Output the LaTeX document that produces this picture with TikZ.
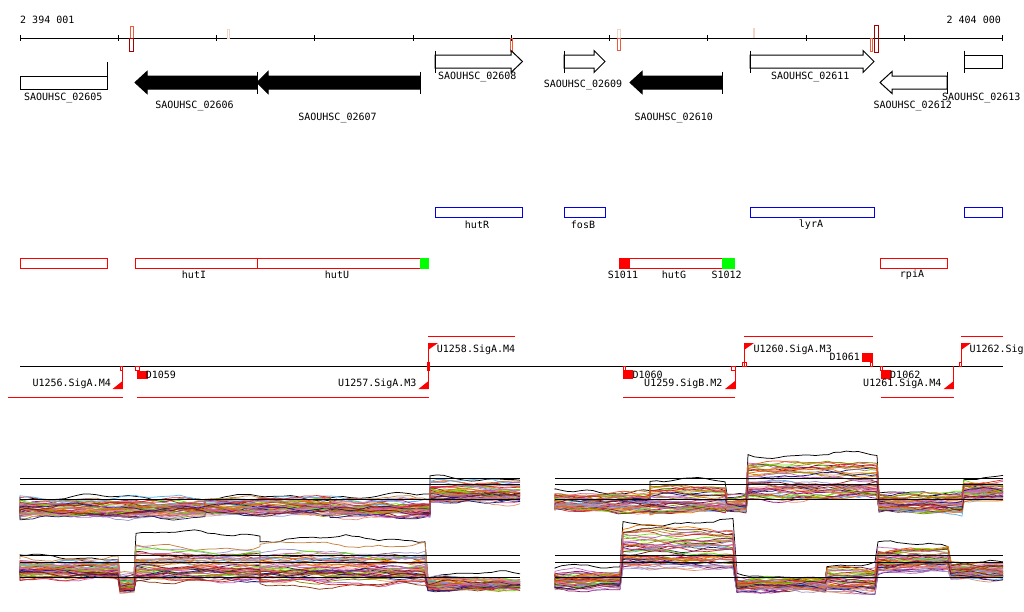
\documentclass[tikz,border=0pt]{standalone}
\usepackage{fontspec}
\setmonofont{DejaVu Sans Mono}
\usetikzlibrary{positioning}
\definecolor{opblue}{RGB}{0,0,230}
\definecolor{hitgreen}{RGB}{0,255,0}
\definecolor{tsred}{RGB}{240,90,60}
\definecolor{tsdark}{RGB}{165,0,0}
\definecolor{tspale}{RGB}{242,212,200}
\definecolor{col0}{RGB}{0,0,0}
\definecolor{col1}{RGB}{90,180,240}
\definecolor{col2}{RGB}{235,90,60}
\definecolor{col3}{RGB}{150,20,130}
\definecolor{col4}{RGB}{140,140,0}
\definecolor{col5}{RGB}{100,230,0}
\definecolor{col6}{RGB}{140,60,20}
\definecolor{col7}{RGB}{215,100,160}
\definecolor{col8}{RGB}{225,150,120}
\definecolor{col9}{RGB}{230,120,0}
\definecolor{col10}{RGB}{160,150,210}
\definecolor{col11}{RGB}{30,30,120}
\definecolor{col12}{RGB}{195,130,65}
\definecolor{col13}{RGB}{220,40,40}
\definecolor{col14}{RGB}{190,110,190}
\definecolor{col15}{RGB}{110,30,40}

\begin{document}
\begin{tikzpicture}[x=1pt, y=-1pt,
    lbl/.style={font=\ttfamily\fontsize{10}{10}\selectfont, inner sep=0pt},
    genebox/.style={draw=black, fill=white, line width=1pt},
    geneblk/.style={draw=black, fill=black, line width=1pt},
    startbar/.style={draw=black, line width=1pt},
    opbox/.style={draw=opblue, line width=1pt},
    tubox/.style={draw=red, line width=1pt},
    span/.style={draw=red, line width=1pt},
    site/.style={draw=red, line width=0.8pt},
    profile/.style={line width=0.75pt},
    level/.style={draw=black, line width=1pt}
]
\useasboundingbox (0,0) rectangle (1024,611);

% Coordinate axis
\draw[line width=1pt] (20,38) -- (1003,38);
\foreach \t in {0,...,10}
  \draw[line width=1pt] ({20+98.25*\t},35) -- ({20+98.25*\t},41);
\node[lbl, anchor=west] (posl) at (20,20) {2 394 001};
\node[lbl, anchor=east] (posr) at (1001,20) {2 404 000};

% Transcription start marks
\draw[tsred, line width=0.8pt] (130,26) rectangle (133.5,38);
\draw[tsdark, line width=1.5pt] (129.5,38.5) rectangle (133.5,51.5);
\draw[tspale, line width=0.8pt] (227,29) rectangle (229.5,38);
\draw[tsred, line width=0.8pt] (510,38) rectangle (512,51);
\draw[tspale, line width=0.8pt] (617,29) rectangle (620,38);
\draw[tsred, line width=0.8pt] (617,38) rectangle (620,50);
\draw[tspale, line width=1.5pt] (754,28) -- (754,38);
\draw[tsred, line width=0.8pt] (870.5,38) rectangle (872.5,51);
\draw[tsdark, line width=1pt] (874,25) rectangle (878.5,52);

% Genes
\draw[genebox] (20,76) rectangle (107,89);
\draw[startbar] (107,62) -- (107,89);
\draw[geneblk] (135,82.5) -- (147,71.5) -- (147,76) -- (257,76) -- (257,89) -- (147,89) -- (147,93.5) -- cycle;
\draw[startbar] (257,71.5) -- (257,93.5);
\draw[geneblk] (257,82.5) -- (268,71.5) -- (268,76) -- (420,76) -- (420,89) -- (268,89) -- (268,93.5) -- cycle;
\draw[startbar] (420,71.5) -- (420,93.5);
\draw[genebox] (435,55) -- (511,55) -- (511,50.5) -- (522.5,61.5) -- (511,72.5) -- (511,68) -- (435,68) -- cycle;
\draw[startbar] (435,50.5) -- (435,72.5);
\draw[genebox] (564,55) -- (594,55) -- (594,50.5) -- (605,61.5) -- (594,72.5) -- (594,68) -- (564,68) -- cycle;
\draw[startbar] (564,50.5) -- (564,72.5);
\draw[geneblk] (630,82.5) -- (642,71.5) -- (642,76) -- (722,76) -- (722,89) -- (642,89) -- (642,93.5) -- cycle;
\draw[startbar] (722,71.5) -- (722,93.5);
\draw[genebox] (750,55) -- (863,55) -- (863,50.5) -- (874,61.5) -- (863,72.5) -- (863,68) -- (750,68) -- cycle;
\draw[startbar] (750,50.5) -- (750,72.5);
\draw[genebox] (880,82.5) -- (892,71.5) -- (892,76) -- (947,76) -- (947,89) -- (892,89) -- (892,93.5) -- cycle;
\draw[startbar] (947,71.5) -- (947,93.5);
\draw[genebox] (964,55) rectangle (1002,68);
\draw[startbar] (964,50.5) -- (964,72.5);

\node[lbl] (g02605) at (63.3,97.5) {SAOUHSC\_02605};
\node[lbl] (g02606) at (194.5,106) {SAOUHSC\_02606};
\node[lbl] (g02607) at (337.5,118) {SAOUHSC\_02607};
\node[lbl] (g02608) at (477.3,76.5) {SAOUHSC\_02608};
\node[lbl] (g02609) at (583,85) {SAOUHSC\_02609};
\node[lbl] (g02610) at (673.7,118) {SAOUHSC\_02610};
\node[lbl] (g02611) at (810.3,76.5) {SAOUHSC\_02611};
\node[lbl] (g02612) at (912.7,106) {SAOUHSC\_02612};
\node[lbl] (g02613) at (981.3,97.5) {SAOUHSC\_02613};

% Operons
\draw[opbox] (435,207.5) rectangle (522,217.5);
\draw[opbox] (564,207.5) rectangle (605,217.5);
\draw[opbox] (750,207.5) rectangle (874,217.5);
\draw[opbox] (964,207.5) rectangle (1002,217.5);
\node[lbl] (hutR) at (477,224.5) {hutR};
\node[lbl] (fosB) at (583,224.5) {fosB};
\node[lbl] (lyrA) at (811,224.5) {lyrA};

% Transcription units
\draw[tubox] (20,258.5) rectangle (107,268.5);
\draw[tubox] (135,258.5) rectangle (257,268.5);
\draw[tubox] (257,258.5) rectangle (420,268.5);
\fill[hitgreen] (420,258) rectangle (429,269);
\draw[tubox] (619,258.5) rectangle (722,268.5);
\fill[red] (619,258) rectangle (630,269);
\fill[hitgreen] (722,258) rectangle (735,269);
\draw[tubox] (880,258.5) rectangle (947,268.5);
\node[lbl] (hutI) at (194,275) {hutI};
\node[lbl] (hutU) at (337,275) {hutU};
\node[lbl] (S1011) at (623,275) {S1011};
\node[lbl] (hutG) at (674,275) {hutG};
\node[lbl] (S1012) at (726.7,275) {S1012};
\node[lbl] (rpiA) at (912,275) {rpiA};

% Promoters and terminators
\draw[line width=1pt] (20,366) -- (1003,366);
\draw[span] (428,336) -- (515,336);
\draw[span] (744,336) -- (873,336);
\draw[span] (961,336) -- (1003,336);
\draw[span] (8,397) -- (123,397);
\draw[span] (137,397) -- (429,397);
\draw[span] (623,397) -- (735,397);
\draw[span] (881,397) -- (954,397);

\foreach \px in {428,744,961}{
  \draw[span] (\px,366) -- (\px,343);
  \fill[red] (\px,343) -- ({\px+10},343) -- (\px,350) -- cycle;
}
\foreach \px in {122.5,428.5,735,953.7}{
  \draw[span] (\px,366) -- (\px,389);
  \fill[red] (\px,389) -- ({\px-10},389) -- (\px,381) -- cycle;
}
\draw[site] (120,366) rectangle (122.5,370);
\draw[site] (135.5,366) rectangle (139,370);
\draw[site] (427,362) rectangle (429.5,370);
\draw[site] (623,366) rectangle (625.5,370);
\draw[site] (731.7,366) rectangle (735,370);
\draw[site] (742.7,362) rectangle (746,366);
\draw[site] (870.3,362) rectangle (872.7,366);
\draw[site] (880.3,366) rectangle (882.3,370);
\draw[site] (959,362) rectangle (961.3,366);
\fill[red] (137,371) rectangle (147.5,379);
\fill[red] (623,370) rectangle (633,379);
\fill[red] (862,353) rectangle (872.5,362);
\fill[red] (881,370) rectangle (891,379);

\node[lbl, anchor=east] (U1256) at (111,383.5) {U1256.SigA.M4};
\node[lbl, anchor=west] (D1059) at (145.7,375) {D1059};
\node[lbl, anchor=east] (U1257) at (416.7,383.5) {U1257.SigA.M3};
\node[lbl, anchor=west] (U1258) at (436.7,349.7) {U1258.SigA.M4};
\node[lbl, anchor=west] (D1060) at (632.3,375) {D1060};
\node[lbl, anchor=east] (U1259) at (722.7,383.5) {U1259.SigB.M2};
\node[lbl, anchor=west] (U1260) at (753.3,349.7) {U1260.SigA.M3};
\node[lbl, anchor=east] (D1061) at (860,357) {D1061};
\node[lbl, anchor=west] (D1062) at (890,375) {D1062};
\node[lbl, anchor=east] (U1261) at (941.7,383.5) {U1261.SigA.M4};
\node[lbl, anchor=west] (U1262) at (969.3,349.7) {U1262.Sig};

% Expression profiles, upper left
\pgfmathsetseed{7}
\foreach \i in {1,...,44}{
  \pgfmathsetmacro\uu{(rand+1)/2*0.98+0.01}
  \pgfmathsetmacro\rr{2*\uu^0.6-1}
  \ifnum\i=1 \def\rr{-1.15}\fi
  \pgfmathsetmacro\pa{180*rand}
  \pgfmathsetmacro\pb{180*rand}
  \pgfmathtruncatemacro\ci{\i==1 ? 0 : mod(\i,15)+1}
  \draw[profile, color=col\ci] (20,{507+9*\rr})
    \foreach \xa/\xb/\lv/\sp/\ns in {20/205/507/8/30, 205/330/505/8/20, 330/430/507/8/16, 430/520/491/10/14}
      { -- plot[domain=\xa:\xb, samples=\ns] (\x,{\lv+\sp*\rr+2.5*sin(\x*2.3+\pa)+1.2*sin(\x*7+\pb)+2*sin(\xa*7.3+\pb)+0.7*rand}) };
}

% Expression profiles, lower left
\pgfmathsetseed{21}
\foreach \i in {1,...,44}{
  \pgfmathsetmacro\uu{(rand+1)/2*0.98+0.01}
  \pgfmathsetmacro\rr{2*\uu^0.6-1}
  \ifnum\i=1 \def\rr{-1.15}\fi
  \pgfmathsetmacro\pa{180*rand}
  \pgfmathsetmacro\pb{180*rand}
  \pgfmathtruncatemacro\ci{\i==1 ? 0 : mod(\i,15)+1}
  \draw[profile, color=col\ci] (20,{567+11*\rr})
    \foreach \xa/\xb/\lv/\sp/\ns in {20/118/567/10/16, 120/134/582/8/4, 136/260/561/22/20, 260/425/562/22/26, 428/520/583/6/14}
      { -- plot[domain=\xa:\xb, samples=\ns] (\x,{\lv+\sp*\rr+2.5*sin(\x*2.3+\pa)+1.2*sin(\x*7+\pb)+2*sin(\xa*7.3+\pb)+0.7*rand}) };
}

% Expression profiles, upper right
\pgfmathsetseed{33}
\foreach \i in {1,...,44}{
  \pgfmathsetmacro\uu{(rand+1)/2*0.98+0.01}
  \pgfmathsetmacro\rr{2*\uu^0.6-1}
  \ifnum\i=1 \def\rr{-1.15}\fi
  \pgfmathsetmacro\pa{180*rand}
  \pgfmathsetmacro\pb{180*rand}
  \pgfmathtruncatemacro\ci{\i==1 ? 0 : mod(\i,15)+1}
  \draw[profile, color=col\ci] (555,{501+10*\rr})
    \foreach \xa/\xb/\lv/\sp/\ns in {555/650/501/9/16, 650/725/498/15/12, 727/746/503/8/4, 748/877/478/21/22, 879/962/502/9/14, 964/1003/490/8/7}
      { -- plot[domain=\xa:\xb, samples=\ns] (\x,{\lv+\sp*\rr+2.5*sin(\x*2.3+\pa)+1.2*sin(\x*7+\pb)+2*sin(\xa*7.3+\pb)+0.7*rand}) };
}

% Expression profiles, lower right
\pgfmathsetseed{45}
\foreach \i in {1,...,44}{
  \pgfmathsetmacro\uu{(rand+1)/2*0.98+0.01}
  \pgfmathsetmacro\rr{2*\uu^0.6-1}
  \ifnum\i=1 \def\rr{-1.15}\fi
  \pgfmathsetmacro\pa{180*rand}
  \pgfmathsetmacro\pb{180*rand}
  \pgfmathtruncatemacro\ci{\i==1 ? 0 : mod(\i,15)+1}
  \draw[profile, color=col\ci] (555,{579+9*\rr})
    \foreach \xa/\xb/\lv/\sp/\ns in {555/620/579/8/11, 623/733/546/22/18, 737/825/584/6/16, 827/875/578/13/8, 878/948/558/13/12, 951/1003/570/7/9}
      { -- plot[domain=\xa:\xb, samples=\ns] (\x,{\lv+\sp*\rr+2.5*sin(\x*2.3+\pa)+1.2*sin(\x*7+\pb)+2*sin(\xa*7.3+\pb)+0.7*rand}) };
}

% Reference levels
\foreach \ly in {478.3,484,499.5,555.3,562,577.3}{
  \draw[level] (20,\ly) -- (520,\ly);
  \draw[level] (555,\ly) -- (1003,\ly);
}

\end{tikzpicture}
\end{document}
